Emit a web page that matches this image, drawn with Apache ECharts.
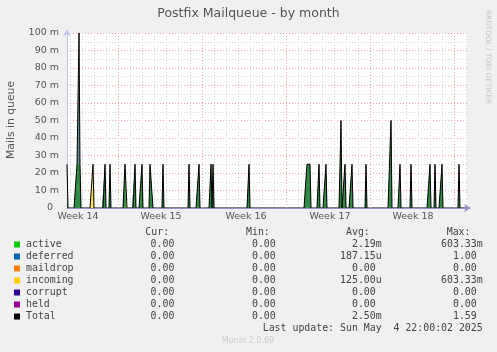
<!DOCTYPE html>
<html>
<head>
<meta charset="utf-8">
<script src="https://cdn.jsdelivr.net/npm/echarts@6/dist/echarts.min.js"></script>
<style>
	body { margin: 0; background: #f0f0f0; }
	#chartDiv { width: 497px; height: 352px; }
</style>
</head>
<body>
<div id="chartDiv"></div>
<script>
//x轴单位: 2小时一个采样 (0 ~ 400)
var slotCount = 400;
var weekStarts = [51, 135, 219, 303, 387];
var weekLabelPos = [11, 94, 179, 263, 346];
var weekLabels = ['Week 14', 'Week 15', 'Week 16', 'Week 17', 'Week 18'];

//队列尖峰 (采样位置 / 各字段数值)
var spikeSlots    = [0, 10, 11, 12, 13, 26, 38, 43, 58, 59, 68, 75, 83, 84, 85, 96, 122, 132, 144, 146, 182, 240, 241, 242, 243, 252, 259, 274, 278, 285, 299, 324, 333, 344, 363, 368, 375, 392];
var spikeActive   = [0.025, 0.025, 0.025, 0.025, 0.025, 0, 0.025, 0.025, 0.025, 0, 0.025, 0.025, 0.025, 0.025, 0.025, 0.025, 0.025, 0.025, 0.025, 0.025, 0.025, 0.025, 0.025, 0.025, 0.025, 0.025, 0.025, 0.05, 0.025, 0.025, 0.025, 0.05, 0.025, 0.025, 0.025, 0.025, 0.025, 0.025];
var spikeDeferred = [0, 0, 0, 0.075, 0, 0, 0, 0, 0, 0, 0, 0, 0, 0, 0, 0, 0, 0, 0, 0, 0, 0, 0, 0, 0, 0, 0, 0, 0, 0, 0, 0, 0, 0, 0, 0, 0, 0];
var spikeIncoming = [0, 0, 0, 0, 0, 0.025, 0, 0, 0, 0.025, 0, 0, 0, 0, 0, 0, 0, 0, 0, 0, 0, 0, 0, 0, 0, 0, 0, 0, 0, 0, 0, 0, 0, 0, 0, 0, 0, 0];
var spikeTotal    = [0.025, 0.025, 0.025, 0.1, 0.025, 0.025, 0.025, 0.025, 0.025, 0.025, 0.025, 0.025, 0.025, 0.025, 0.025, 0.025, 0.025, 0.025, 0.025, 0.025, 0.025, 0.025, 0.025, 0.025, 0.025, 0.025, 0.025, 0.05, 0.025, 0.025, 0.025, 0.05, 0.025, 0.025, 0.025, 0.025, 0.025, 0.025];

//图例表格
var fieldNames  = ['active', 'deferred', 'maildrop', 'incoming', 'corrupt', 'held', 'Total'];
var fieldColors = ['#00cc00', '#0066b3', '#ff8000', '#ffcc00', '#330099', '#990099', '#000000'];
var curVals = ['0.00 ', '0.00 ', '0.00 ', '0.00 ', '0.00 ', '0.00 ', '0.00 '];
var minVals = ['0.00 ', '0.00 ', '0.00 ', '0.00 ', '0.00 ', '0.00 ', '0.00 '];
var avgVals = ['2.19m', '187.15u', '0.00 ', '125.00u', '0.00 ', '0.00 ', '2.50m'];
var maxVals = ['603.33m', '1.00 ', '0.00 ', '603.33m', '0.00 ', '0.00 ', '1.59 '];

//把尖峰填进完整的采样序列 (多个字段时逐个叠加)
function buildSeries(layers)
{
	var arr = [];
	for (var i = 0; i <= slotCount; i++) {
		arr.push([i, 0]);
	}
	layers.forEach(function(vals) {
		for (var k = 0; k < spikeSlots.length; k++) {
			arr[spikeSlots[k]][1] += vals[k];
		}
	});
	return arr;
}

function areaSeries(name, color, layers)
{
	return {
		name: name,
		type: 'line',
		data: buildSeries(layers),
		symbol: 'none',
		lineStyle: { width: 0 },
		areaStyle: { color: color, opacity: 0.65, origin: 'start' },
		itemStyle: { color: color },
		silent: true
	};
}

//全为0的字段 (在x轴上, 看不见)
function zeroSeries(name, color)
{
	return {
		name: name,
		type: 'line',
		data: buildSeries([]),
		symbol: 'none',
		lineStyle: { width: 0, color: color },
		itemStyle: { color: color },
		silent: true
	};
}

function generateChart()
{
	var chart = echarts.init(document.getElementById('chartDiv'));

	var dayLines = [];
	for (var d = 3; d <= slotCount; d += 12) {
		dayLines.push(d);
	}

	var mono = '9.9px "DejaVu Sans Mono"';
	var graphic = [];
	var rowY = 244.5;
	graphic.push({ type: 'text', left: 'center', top: 7, style: { text: 'Postfix Mailqueue - by month', font: '12.5px "DejaVu Sans"', fill: '#555' } });
	graphic.push({ type: 'text', x: 11, y: 120, rotation: Math.PI / 2, style: { text: 'Mails in queue', font: '10.8px "DejaVu Sans"', fill: '#555', align: 'center', verticalAlign: 'middle', textAlign: 'center', textVerticalAlign: 'middle' } });
	graphic.push({ type: 'text', x: 488, y: 57, rotation: -Math.PI / 2, style: { text: 'RRDTOOL / TOBI OETIKER', font: '7.3px "DejaVu Sans"', fill: '#c4c4c4', align: 'center', verticalAlign: 'middle', textAlign: 'center', textVerticalAlign: 'middle' } });

	var headers = [['Cur:', 145.3], ['Min:', 246], ['Avg:', 346], ['Max:', 446.7]];
	headers.forEach(function(h) {
		graphic.push({ type: 'text', x: h[1], y: rowY - 12, style: { text: h[0], font: mono, fill: '#444', align: 'left', verticalAlign: 'middle', textAlign: 'left', textVerticalAlign: 'middle' } });
	});

	var cols = [[curVals, 180.3], [minVals, 281.7], [avgVals, 381.7], [maxVals, 482.7]];
	for (var i = 0; i < fieldNames.length; i++) {
		var y = rowY + i * 12;
		graphic.push({ type: 'rect', shape: { x: 14, y: y - 3, width: 6, height: 6 }, style: { fill: fieldColors[i] } });
		graphic.push({ type: 'text', x: 26, y: y, style: { text: fieldNames[i], font: mono, fill: '#444', align: 'left', verticalAlign: 'middle', textAlign: 'left', textVerticalAlign: 'middle' } });
		cols.forEach(function(c) {
			graphic.push({ type: 'text', x: c[1], y: y, style: { text: c[0][i], font: mono, fill: '#444', align: 'right', verticalAlign: 'middle', textAlign: 'right', textVerticalAlign: 'middle' } });
		});
	}
	graphic.push({ type: 'text', x: 482.7, y: rowY + 7 * 12, style: { text: 'Last update: Sun May  4 22:00:02 2025', font: mono, fill: '#444', align: 'right', verticalAlign: 'middle', textAlign: 'right', textVerticalAlign: 'middle' } });
	graphic.push({ type: 'text', x: 248, y: 341, style: { text: 'Munin 2.0.69', font: '8px "DejaVu Sans"', fill: '#cccccc', align: 'center', verticalAlign: 'middle', textAlign: 'center', textVerticalAlign: 'middle' } });

	var option = {
		animation: false,
		backgroundColor: '#f0f0f0',
		grid: {
			left: 67, top: 33, width: 400, height: 175,
			show: true, backgroundColor: '#ffffff', borderWidth: 0
		},
		xAxis: [{
			type: 'value',
			min: 0,
			max: slotCount,
			position: 'bottom',
			z: 5,
			axisLine: { lineStyle: { color: '#9c90cc', width: 1 }, symbol: ['none', 'arrow'], symbolSize: [6, 7], symbolOffset: [0, 4] },
			axisTick: { show: false, customValues: weekStarts },
			axisLabel: {
				customValues: weekLabelPos,
				margin: 4,
				color: '#555',
				fontFamily: 'DejaVu Sans',
				fontSize: 9.5,
				formatter: function(v) {
					var idx = weekLabelPos.indexOf(v);
					return idx >= 0 ? weekLabels[idx] : '';
				}
			},
			splitLine: { show: true, lineStyle: { color: '#f2a0a0', type: [1, 2], width: 1 } }
		}, {
			type: 'value',
			min: 0,
			max: slotCount,
			position: 'top',
			axisLine: { show: false },
			axisTick: { show: false, customValues: dayLines },
			axisLabel: { show: false },
			splitLine: { show: true, lineStyle: { color: '#d4d4d4', type: [1, 2], width: 1 } }
		}],
		yAxis: {
			type: 'value',
			min: 0,
			max: 0.1,
			interval: 0.01,
			axisLine: { show: true, lineStyle: { color: '#c4c4f4' }, symbol: ['none', 'arrow'], symbolSize: [6, 7], symbolOffset: [0, 4] },
			axisTick: { show: false },
			axisLabel: {
				margin: 8,
				color: '#555',
				fontFamily: 'DejaVu Sans',
				fontSize: 9.5,
				formatter: function(v) {
					var m = Math.round(v * 1000);
					return m === 0 ? '0  ' : m + ' m';
				}
			},
			splitLine: { show: true, lineStyle: { color: '#f2a0a0', type: [1, 2], width: 1 } },
			minorTick: { show: false, splitNumber: 2 },
			minorSplitLine: { show: true, lineStyle: { color: '#d4d4d4', type: [1, 2], width: 1 } }
		},
		//叠加顺序: 先画最高的一层, 再盖上下面的层
		series: [
			areaSeries('incoming', fieldColors[3], [spikeActive, spikeDeferred, spikeIncoming]),
			areaSeries('deferred', fieldColors[1], [spikeActive, spikeDeferred]),
			areaSeries('active', '#1a8a1a', [spikeActive]),
			zeroSeries('maildrop', fieldColors[2]),
			zeroSeries('corrupt', fieldColors[4]),
			zeroSeries('held', fieldColors[5]),
			{
				name: 'Total',
				type: 'line',
				data: buildSeries([spikeTotal]),
				symbol: 'none',
				lineStyle: { color: '#000000', width: 1 },
				itemStyle: { color: '#000000' },
				silent: true,
				z: 3
			}
		],
		graphic: graphic
	};
	chart.setOption(option);
}

generateChart();
</script>
</body>
</html>
